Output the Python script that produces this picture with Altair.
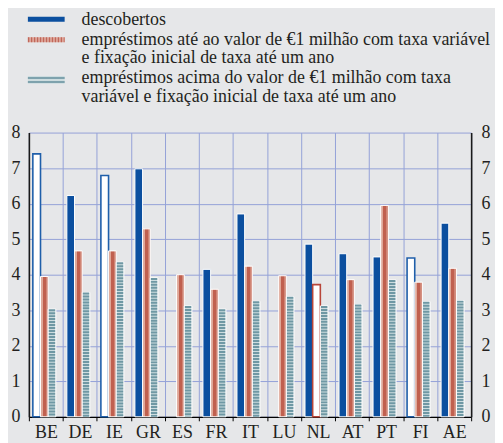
import altair as alt
import pandas as pd

countries = ["BE", "DE", "IE", "GR", "ES", "FR", "IT", "LU", "NL", "AT", "PT", "FI", "AE"]
series_names = ["descobertos", "ate1m", "acima1m"]
overdrafts = [7.40, 6.23, 6.79, 6.98, None, 4.15, 5.71, None, 4.86, 4.59, 4.50, 4.47, 5.45]
loans_upto_1m = [3.95, 4.67, 4.67, 5.29, 4.00, 3.59, 4.24, 3.97, 3.72, 3.86, 5.95, 3.79, 4.18]
loans_above_1m = [3.03, 3.50, 4.35, 3.91, 3.12, 3.03, 3.25, 3.38, 3.12, 3.16, 3.85, 3.24, 3.27]
hollow_overdrafts = ["BE", "IE", "FI"]
hollow_upto = ["NL"]
y_ticks = [0, 1, 2, 3, 4, 5, 6, 7, 8]
legend_lines = [
    "descobertos",
    "empréstimos até ao valor de €1 milhão com taxa variável",
    "e fixação inicial de taxa até um ano",
    "empréstimos acima do valor de €1 milhão com taxa",
    "variável e fixação inicial de taxa até um ano",
]

rows = []
for i, c in enumerate(countries):
    for s, vals, hol in [
        (series_names[0], overdrafts, hollow_overdrafts),
        (series_names[1], loans_upto_1m, hollow_upto),
        (series_names[2], loans_above_1m, []),
    ]:
        v = vals[i]
        if v is None:
            continue
        rows.append({"country": c, "series": s, "value": v, "hollow": c in hol})
df = pd.DataFrame(rows)

FONT = "Liberation Serif"
BLUE = "#0b4f9f"
RED_STROKE = "#b8463a"

red_grad = {
    "gradient": "linear", "x1": 0, "y1": 0, "x2": 1, "y2": 0,
    "stops": [
        {"offset": 0, "color": "#dfa899"}, {"offset": 0.3, "color": "#dfa899"},
        {"offset": 0.3, "color": "#c0604f"}, {"offset": 0.7, "color": "#c0604f"},
        {"offset": 0.7, "color": "#d08474"}, {"offset": 1, "color": "#d08474"},
    ],
}

x_scale = alt.Scale(domain=countries, paddingInner=0, paddingOuter=0)
xo_scale = alt.Scale(domain=series_names, paddingInner=0, paddingOuter=0.72, align=0.36)
y_scale = alt.Scale(domain=[0, 8], nice=False, zero=True)

x_axis = alt.Axis(title=None, labelAngle=0, tickBand="extent", grid=True,
                  gridColor="#94a1d8", gridWidth=1, domainColor="#000000", domainWidth=1.2,
                  tickColor="#000000", tickSize=4, labelPadding=3,
                  labelFont=FONT, labelFontSize=18, labelColor="#231f20")
y_left = alt.Axis(title=None, values=y_ticks, grid=True, gridColor="#94a1d8", gridWidth=1,
                  ticks=False, domainColor="#1a1a1a", domainWidth=1.6, labelPadding=9,
                  labelFont=FONT, labelFontSize=18, labelColor="#231f20")
y_right = alt.Axis(title=None, orient="right", values=y_ticks, grid=False, ticks=False,
                   domainColor="#1a1a1a", domainWidth=1.6, labelPadding=10,
                   labelFont=FONT, labelFontSize=18, labelColor="#231f20")

base = alt.Chart(df)

blue = base.transform_filter(alt.datum.series == series_names[0]).mark_bar().encode(
    x=alt.X("country:N", scale=x_scale, axis=x_axis, sort=countries),
    xOffset=alt.XOffset("series:N", scale=xo_scale),
    y=alt.Y("value:Q", scale=y_scale, axis=y_left),
    fill=alt.condition(alt.datum.hollow, alt.value("#ffffff"), alt.value(BLUE)),
    stroke=alt.condition(alt.datum.hollow, alt.value("#1f5faa"), alt.value("#ffffff")),
    strokeWidth=alt.condition(alt.datum.hollow, alt.value(1.6), alt.value(1)),
)
red = base.transform_filter(alt.datum.series == series_names[1]).mark_bar().encode(
    x=alt.X("country:N", scale=x_scale, axis=None, sort=countries),
    xOffset=alt.XOffset("series:N", scale=xo_scale),
    y=alt.Y("value:Q", scale=y_scale, axis=None),
    fill=alt.condition(alt.datum.hollow, alt.value("#ffffff"), alt.value(red_grad)),
    stroke=alt.condition(alt.datum.hollow, alt.value(RED_STROKE), alt.value("#ffffff")),
    strokeWidth=alt.condition(alt.datum.hollow, alt.value(1.6), alt.value(1)),
)
grey_base = base.transform_filter(alt.datum.series == series_names[2])
grey = grey_base.mark_bar(fill="#cddcdf", stroke="#ffffff", strokeWidth=1).encode(
    x=alt.X("country:N", scale=x_scale, axis=None, sort=countries),
    xOffset=alt.XOffset("series:N", scale=xo_scale),
    y=alt.Y("value:Q", scale=y_scale, axis=y_right),
)
grey_stripes = grey_base.mark_rule(color="#6f98a4", strokeWidth=6.4,
                                   strokeDash=[2, 1]).encode(
    x=alt.X("country:N", scale=x_scale, axis=None, sort=countries),
    xOffset=alt.XOffset("series:N", scale=xo_scale),
    y=alt.Y("value:Q", scale=y_scale, axis=None),
    y2=alt.datum(0),
)

one = pd.DataFrame({"k": [0]})

def rule(x1, x2, y, color, width, dash=None):
    kw = dict(color=color, strokeWidth=width)
    if dash:
        kw["strokeDash"] = dash
    return alt.Chart(one).mark_rule(**kw).encode(
        x=alt.value(x1), x2=alt.value(x2), y=alt.value(y))

legend_syms = [
    rule(-1, 36, -114, BLUE, 5),
    rule(-1, 36, -93.5, "#e3b2a6", 5),
    rule(-1, 36, -93.5, "#c0675a", 5, [1.5, 1.5]),
    rule(-1, 36, -53, "#cddcdf", 8),
    rule(-1, 36, -55, "#7ea2ad", 2),
    rule(-1, 36, -51, "#7ea2ad", 2),
]
text_y = [-108.5, -88.5, -69.5, -49.5, -30.5]
legend_txt = [
    alt.Chart(one).mark_text(align="left", baseline="alphabetic", font=FONT,
                             fontSize=18, color="#231f20").encode(
        x=alt.value(53), y=alt.value(ty), text=alt.value(t))
    for t, ty in zip(legend_lines, text_y)
]

chart = alt.layer(blue, red, grey, grey_stripes, *legend_syms, *legend_txt).resolve_axis(
    x="independent", y="independent"
).properties(
    width=445, height=286,
    padding={"left": 21, "top": 124, "right": 24, "bottom": 25},
    autosize=alt.AutoSizeParams(type="none"),
    background="#e6e7e9",
).configure_view(stroke=None)

chart.save("out.html", embed_options={"renderer": "svg", "actions": False})
